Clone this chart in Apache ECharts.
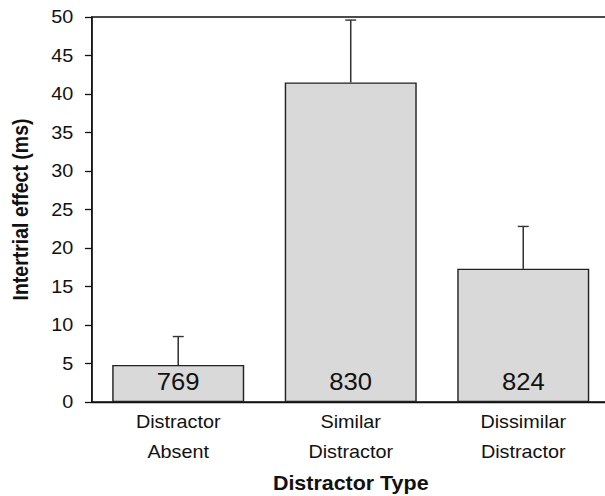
<!DOCTYPE html>
<html><head><meta charset="utf-8">
<script src="https://cdn.jsdelivr.net/npm/echarts@6/dist/echarts.min.js"></script>
<style>
html,body{margin:0;padding:0;background:#fff;overflow:hidden;width:605px;height:496px}
#wrap{width:605px;height:496px;overflow:hidden}
#c{width:550px;height:496px;transform:scaleX(1.1);transform-origin:0 0;overflow:hidden}
</style>
</head><body><div id="wrap"><div id="c"></div></div>
<script>
const categories = ['Distractor\nAbsent', 'Similar\nDistractor', 'Dissimilar\nDistractor'];
const means = [4.8, 41.5, 17.3];
const errorTops = [8.5, 49.6, 22.8];
const barLabels = ['769', '830', '824'];
const yTicks = [0, 5, 10, 15, 20, 25, 30, 35, 40, 45, 50];

const chart = echarts.init(document.getElementById('c'), null, {renderer: 'svg'});
const font = 'Liberation Sans, Arial, sans-serif';
chart.setOption({
  animation: false,
  grid: {left: 83.6, width: 470.5, top: 17, bottom: 94, show: true, outerBoundsMode: 'none', containLabel: false,
    borderColor: '#111', borderWidth: 1.3, backgroundColor: 'transparent'},
  xAxis: {
    type: 'category', data: categories,
    axisLine: {lineStyle: {color: '#111', width: 1.3}},
    axisTick: {show: false},
    axisLabel: {color: '#111', fontFamily: font, fontSize: 18, lineHeight: 30, margin: 5},
    name: 'Distractor Type', nameLocation: 'middle', nameGap: 71,
    nameTextStyle: {color: '#111', fontFamily: font, fontSize: 19.5, fontWeight: 'bold'}
  },
  yAxis: {
    type: 'value', min: yTicks[0], max: yTicks[yTicks.length - 1], interval: 5,
    splitLine: {show: false},
    axisLine: {show: true, lineStyle: {color: '#111', width: 1.3}},
    axisTick: {show: true, length: 6.4, lineStyle: {color: '#111', width: 1.3}},
    axisLabel: {color: '#111', fontFamily: font, fontSize: 18, margin: 17},
    name: 'Intertrial effect (ms)', nameLocation: 'middle', nameGap: 55,
    nameTextStyle: {color: '#111', fontFamily: font, fontSize: 19.5, fontWeight: 'bold'}
  },
  series: [{
    type: 'bar', data: means, barWidth: 120,
    itemStyle: {color: '#d9d9d9', borderColor: '#222', borderWidth: 1.3},
    label: {show: true, position: 'insideBottom', distance: 9,
      formatter: p => barLabels[p.dataIndex],
      color: '#111', fontFamily: font, fontSize: 23.3},
    z: 2
  }, {
    type: 'custom',
    data: categories.map((c, i) => [i, means[i], errorTops[i]]),
    renderItem: function (params, api) {
      const p0 = api.coord([api.value(0), api.value(1)]);
      const y1 = api.coord([api.value(0), api.value(2)])[1];
      const x = p0[0];
      const st = {stroke: '#333', lineWidth: 1.4};
      return {type: 'group', children: [
        {type: 'line', shape: {x1: x, y1: p0[1], x2: x, y2: y1}, style: st},
        {type: 'line', shape: {x1: x - 5, y1: y1, x2: x + 5, y2: y1}, style: st}
      ]};
    },
    z: 3
  }]
});
</script></body></html>
